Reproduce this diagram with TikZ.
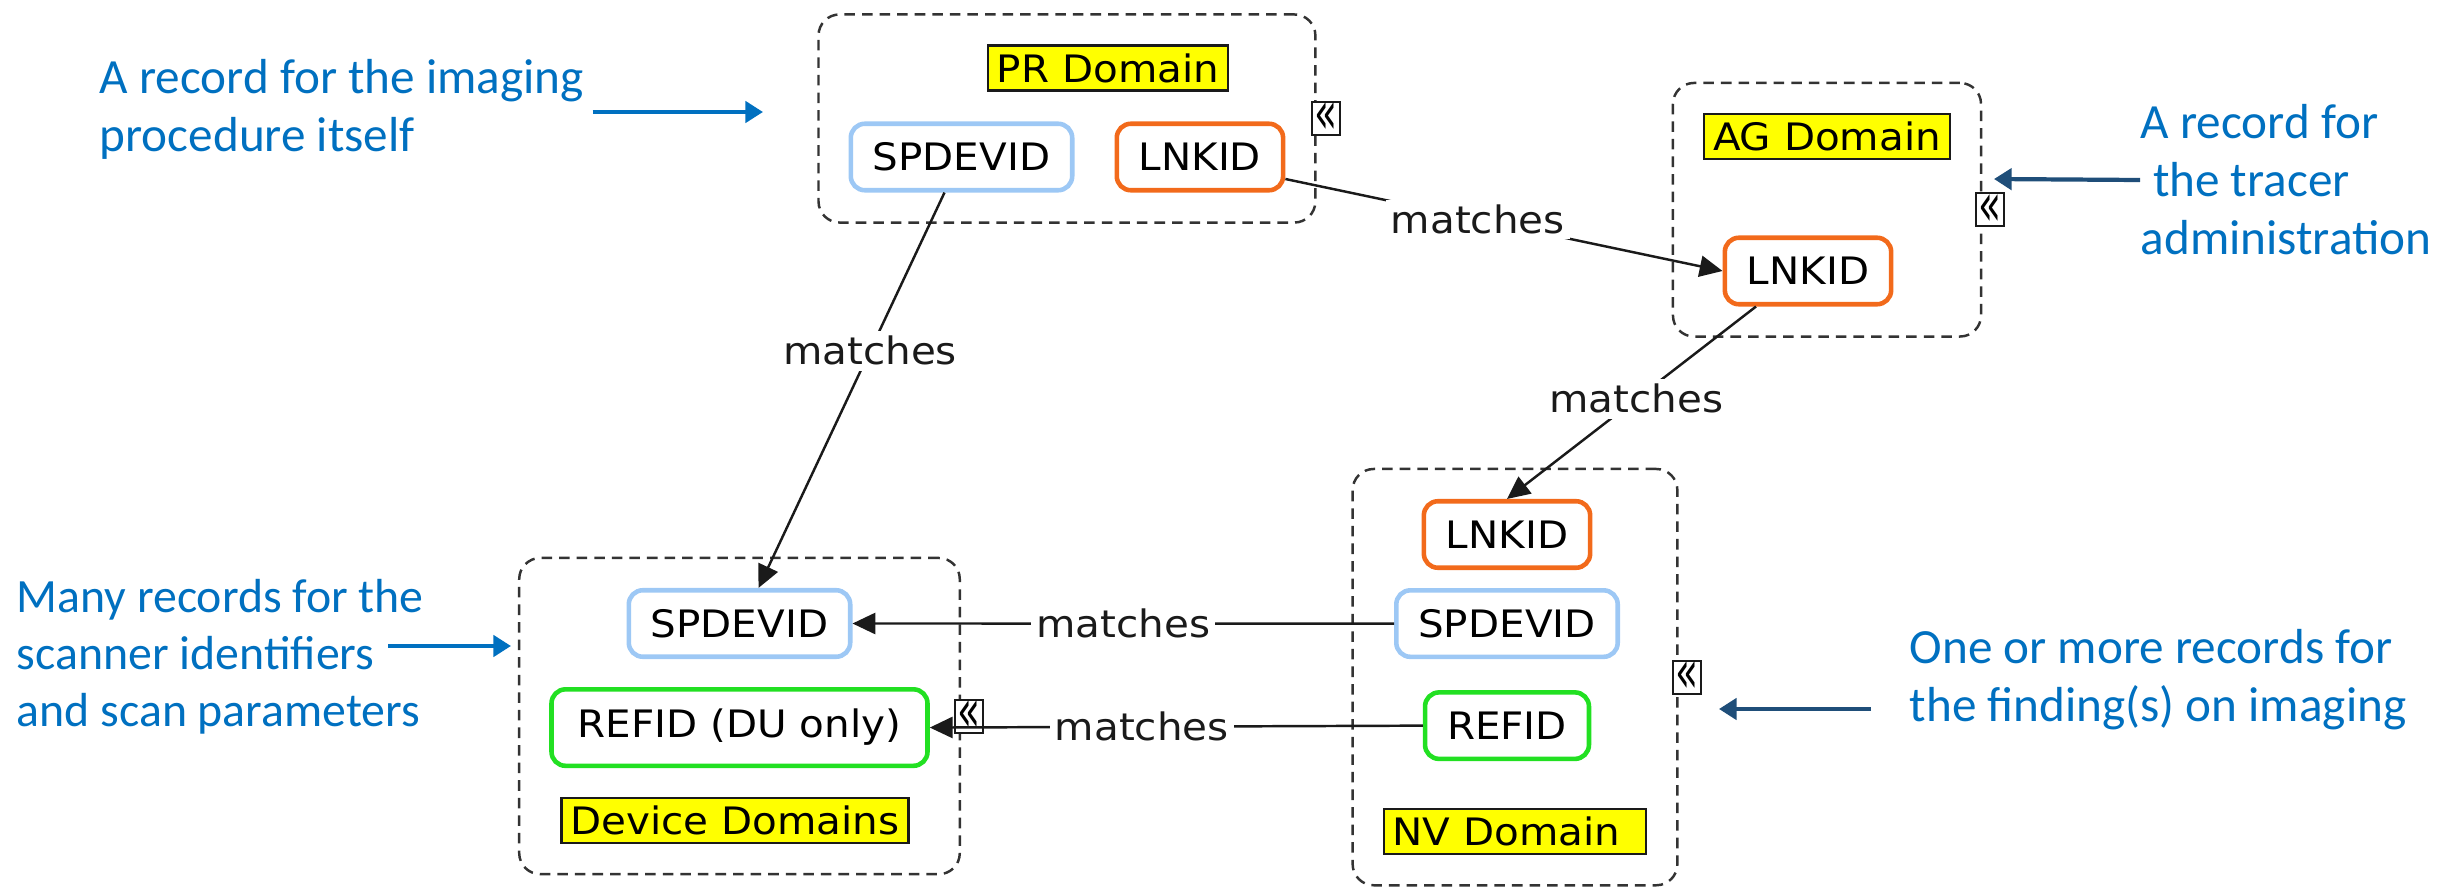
\documentclass[tikz,border=0pt]{standalone}
\usepackage{fontspec}
\setmainfont{DejaVu Sans}[FakeStretch=1.07]
\newfontfamily\notefont{Carlito}
\usetikzlibrary{arrows.meta,positioning,fit,calc}
\definecolor{cInk}{HTML}{1A1A1A}
\definecolor{cDash}{HTML}{333333}
\definecolor{cSky}{HTML}{9DC8F5}
\definecolor{cOrange}{HTML}{F26A1B}
\definecolor{cGreen}{HTML}{22E022}
\definecolor{cTag}{HTML}{FFFF00}
\definecolor{cNote}{HTML}{0070C0}
\definecolor{cNavy}{HTML}{1F4E79}
\tikzset{
  fieldbox/.style={rectangle, rounded corners=4pt, line width=1.3pt, fill=white,
    font=\fontsize{10.75}{12}\selectfont, inner xsep=0.22cm, minimum height=0.665cm},
  spd/.style={fieldbox, draw=cSky},
  lnk/.style={fieldbox, draw=cOrange},
  refbox/.style={fieldbox, draw=cGreen},
  tag/.style={rectangle, draw=cInk, line width=0.6pt, fill=cTag,
    font=\fontsize{10.75}{12}\selectfont, inner xsep=0.09cm, inner ysep=0.07cm,
    minimum height=0.45cm},
  dombox/.style={rectangle, rounded corners=6pt, draw=cDash, line width=0.7pt,
    dash pattern=on 3pt off 2pt, inner sep=0.3cm},
  clps/.style={rectangle, draw=cInk, line width=0.6pt, fill=white, inner sep=0pt,
    minimum width=0.28cm, minimum height=0.33cm, font=\fontsize{10}{10}\selectfont},
}

\begin{document}
\begin{tikzpicture}[
  match/.style={-{Triangle[length=6.5pt,width=6pt]}, line width=0.7pt, cInk},
  lab/.style={fill=white, inner sep=1.5pt, font=\fontsize{10.75}{12}\selectfont},
  note/.style={font=\notefont\fontsize{14}{16.5}\selectfont, text=cNote,
    align=left, inner sep=0pt},
  pointer/.style={-{Triangle[length=5pt,width=6pt]}, line width=1.2pt},
]
\useasboundingbox (0,0) rectangle (24.58,-8.89);
% PR domain
\node[spd] (prspd) at (9.615,-1.57) {SPDEVID};
\node[lnk, right=0.40cm of prspd] (prlnk) {LNKID};
\node[tag] (prlbl) at (11.08,-0.68) {PR Domain};
\node[dombox, fit=(prlbl)(prspd)(prlnk)] (pr) {};
% AG domain
\node[tag] (aglbl) at (18.27,-1.365) {AG Domain};
\node[lnk] (aglnk) at (18.08,-2.71) {LNKID};
\node[dombox, fit=(aglbl)(aglnk)] (ag) {};
% NV domain
\node[lnk] (nvlnk) at (15.07,-5.345) {LNKID};
\node[spd, below=0.18cm of nvlnk] (nvspd) {SPDEVID};
\node[refbox, below=0.31cm of nvspd] (nvref) {REFID};
\node[tag, below=0.47cm of nvref, xshift=0.08cm] (nvlbl) {NV Domain\hspace*{0.17cm}};
\node[dombox, fit=(nvlnk)(nvspd)(nvref)(nvlbl)] (nv) {};
% device domains
\node[spd] (dvspd) at (7.395,-6.235) {SPDEVID};
\node[refbox, minimum width=3.76cm, minimum height=0.765cm, below=0.28cm of dvspd]
  (dvref) {REFID (DU only)};
\node[tag, below=0.29cm of dvref, xshift=-0.045cm] (dvlbl) {Device Domains};
\node[dombox, fit=(dvspd)(dvref)(dvlbl)] (dv) {};
% collapse marks
\node[clps] (prclps) at ([xshift=0.09cm]pr.east) {\scalebox{1}[1.7]{«}};
\node[clps] (agclps) at ([xshift=0.08cm]ag.east) {\scalebox{1}[1.7]{«}};
\node[clps] (nvclps) at ([xshift=0.08cm]nv.east) {\scalebox{1}[1.7]{«}};
\node[clps] (dvclps) at ([xshift=0.08cm]dv.east) {\scalebox{1}[1.7]{«}};
% matches
\draw[match] ([xshift=-0.17cm]prspd.south) -- node[lab, pos=0.40] {matches}
  ([xshift=0.19cm]dvspd.north);
\draw[match] ([yshift=-0.22cm]prlnk.east) -- node[lab, pos=0.44] {matches} (aglnk.west);
\draw[match] ([xshift=-0.52cm]aglnk.south) -- node[lab, pos=0.48] {matches} (nvlnk.north);
\draw[match] (nvspd.west) -- node[lab, pos=0.5] {matches} (dvspd.east);
\draw[match] (nvref.west) -- node[lab, pos=0.57] {matches} (dvref.east);
% notes
\node[note, anchor=west] (t1) at (0.99,-1.09) {A record for the imaging\\procedure itself};
\node[note, anchor=west, font=\notefont\fontsize{13.6}{16.2}\selectfont] (t2) at (0.16,-6.57)
  {Many records for the\\scanner identifiers\\and scan parameters};
\node[note, anchor=west] (t3) at (21.40,-1.80) {A record for\\\hspace*{0.25em}the tracer\\administration};
\node[note, anchor=west] (t4) at (19.09,-6.80) {One or more records for\\the finding(s) on imaging};
\coordinate (t1tip) at (7.63,-1.12);
\coordinate (t2tail) at (3.88,-6.46);
\coordinate (t3tip) at (19.94,-1.79);
\coordinate (t4tail) at (18.71,-7.09);
\coordinate (t4tip) at (17.19,-7.09);
\draw[pointer, cNote] ($(t1.east)+(0.08,-0.03)$) -- (t1tip);
\draw[pointer, cNote, shorten >=0.07cm] (t2tail) -- (t2tail -| dv.west);
\draw[pointer, cNavy] (t3.west) -- (t3tip);
\draw[pointer, cNavy] (t4tail) -- (t4tip);
\end{tikzpicture}
\end{document}
